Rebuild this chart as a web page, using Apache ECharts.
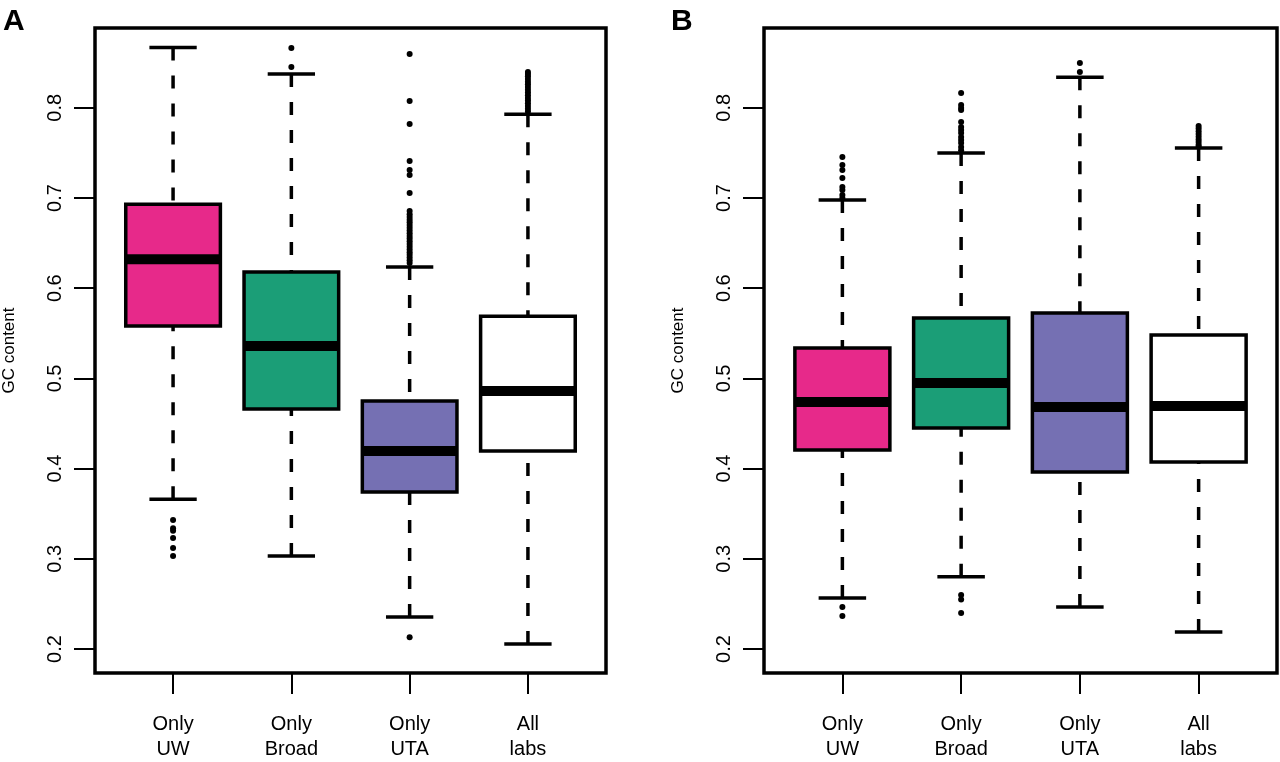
<!DOCTYPE html>
<html>
<head>
<meta charset="utf-8">
<script src="https://cdn.jsdelivr.net/npm/echarts@6/dist/echarts.min.js"></script>
<style>
html,body{margin:0;padding:0;background:#fff;}
#chart{width:1280px;height:762px;}
</style>
</head>
<body>
<div id="chart"></div>
<script>
// ---------- data ----------
const categories = ['Only\nUW', 'Only\nBroad', 'Only\nUTA', 'All\nlabs'];
const yTicks = [0.2, 0.3, 0.4, 0.5, 0.6, 0.7, 0.8];
const boxColors = ['#E7298A', '#1B9E77', '#7570B3', '#FFFFFF'];

// Panel A: [lower whisker, Q1, median, Q3, upper whisker]
const statsA_UW    = [0.366, 0.558, 0.632, 0.693, 0.867];
const statsA_Broad = [0.303, 0.466, 0.536, 0.618, 0.8375];
const statsA_UTA   = [0.2355, 0.374, 0.4195, 0.475, 0.6235];
const statsA_All   = [0.2055, 0.4195, 0.486, 0.569, 0.793];

// Panel B
const statsB_UW    = [0.2565, 0.4206, 0.4738, 0.5337, 0.6978];
const statsB_Broad = [0.280, 0.445, 0.495, 0.567, 0.7499];
const statsB_UTA   = [0.2466, 0.3962, 0.4683, 0.5725, 0.834];
const statsB_All   = [0.2188, 0.4073, 0.4694, 0.5481, 0.7554];

// Outliers
const outA_UW    = [0.343, 0.334, 0.331, 0.323, 0.312, 0.303];
const outA_Broad = [0.8663, 0.8452];
const outA_UTA   = [0.213, 0.8597, 0.8075, 0.782, 0.741, 0.731, 0.7255, 0.7055,
                    0.6856, 0.682, 0.679, 0.676, 0.673, 0.670, 0.667, 0.664, 0.661,
                    0.658, 0.655, 0.652, 0.649, 0.646, 0.643, 0.640, 0.637, 0.634,
                    0.631, 0.628];
const outA_All   = [0.8397, 0.8375, 0.835, 0.832, 0.829, 0.826, 0.823, 0.820, 0.817,
                    0.814, 0.811, 0.808, 0.805, 0.802, 0.799, 0.796];

const outB_UW    = [0.2466, 0.2366, 0.7455, 0.7366, 0.731, 0.7222, 0.7122, 0.7089, 0.7033, 0.700];
const outB_Broad = [0.260, 0.255, 0.240, 0.8164, 0.803, 0.7997, 0.7976, 0.7843, 0.7787,
                    0.7754, 0.772, 0.7676, 0.7643, 0.761, 0.7565, 0.753];
const outB_UTA   = [0.8497, 0.8397];
const outB_All   = [0.7798, 0.777, 0.774, 0.771, 0.768, 0.765, 0.762, 0.759, 0.757];

// ---------- build ----------
const statsA = [statsA_UW, statsA_Broad, statsA_UTA, statsA_All];
const statsB = [statsB_UW, statsB_Broad, statsB_UTA, statsB_All];
const outA = [outA_UW, outA_Broad, outA_UTA, outA_All];
const outB = [outB_UW, outB_Broad, outB_UTA, outB_All];

function boxData(stats) {
  return stats.map((s, i) => [i + 1].concat(s).concat([i]));
}
function outData(outs) {
  const res = [];
  outs.forEach((arr, i) => arr.forEach(v => res.push([i + 1, v])));
  return res;
}

const FONT = 'Liberation Sans, Arial, Helvetica, sans-serif';
const LW = 3.5;

function renderBox(params, api) {
  const x = api.value(0);
  const lo = api.value(1), q1 = api.value(2), med = api.value(3), q3 = api.value(4), hi = api.value(5);
  const ci = api.value(6);
  const bw = 0.4, sw = 0.2;
  const pHi = api.coord([x, hi]), pQ3 = api.coord([x, q3]);
  const pQ1 = api.coord([x, q1]), pLo = api.coord([x, lo]);
  const bl = api.coord([x - bw, q3]), br = api.coord([x + bw, q1]);
  const sl = api.coord([x - sw, hi]), sr = api.coord([x + sw, hi]);
  const sl2 = api.coord([x - sw, lo]), sr2 = api.coord([x + sw, lo]);
  const ml = api.coord([x - bw, med]), mr = api.coord([x + bw, med]);
  const dash = { stroke: '#000', lineWidth: LW, lineDash: [13, 15] };
  const solid = { stroke: '#000', lineWidth: LW };
  return {
    type: 'group',
    children: [
      { type: 'line', shape: { x1: pHi[0], y1: pHi[1], x2: pQ3[0], y2: pQ3[1] }, style: dash },
      { type: 'line', shape: { x1: pLo[0], y1: pLo[1], x2: pQ1[0], y2: pQ1[1] }, style: dash },
      { type: 'line', shape: { x1: sl[0], y1: sl[1], x2: sr[0], y2: sr[1] }, style: solid },
      { type: 'line', shape: { x1: sl2[0], y1: sl2[1], x2: sr2[0], y2: sr2[1] }, style: solid },
      { type: 'rect', shape: { x: bl[0], y: bl[1], width: br[0] - bl[0], height: br[1] - bl[1] },
        style: { fill: boxColors[ci], stroke: '#000', lineWidth: LW } },
      { type: 'line', shape: { x1: ml[0], y1: ml[1], x2: mr[0], y2: mr[1] },
        style: { stroke: '#000', lineWidth: 10 } }
    ]
  };
}

function xAxisCfg(gi) {
  return {
    type: 'value', gridIndex: gi, min: 0.34, max: 4.66,
    axisLine: { show: false },
    splitLine: { show: false },
    axisTick: { show: true, length: 21, customValues: [1, 2, 3, 4], lineStyle: { color: '#000', width: 2 } },
    axisLabel: {
      customValues: [1, 2, 3, 4],
      formatter: v => categories[Math.round(v) - 1] || '',
      color: '#000', fontSize: 20, fontFamily: FONT, lineHeight: 25, margin: 39
    }
  };
}
function yAxisCfg(gi) {
  return {
    type: 'value', gridIndex: gi, min: 0.1734, max: 0.8885,
    name: 'GC content', nameLocation: 'middle', nameGap: 77, nameRotate: 90,
    nameTextStyle: { color: '#000', fontSize: 17, fontFamily: FONT },
    axisLine: { show: false },
    splitLine: { show: false },
    axisTick: { show: true, length: 21, customValues: yTicks, lineStyle: { color: '#000', width: 2 } },
    axisLabel: {
      customValues: yTicks, rotate: 90,
      formatter: v => v.toFixed(1),
      color: '#000', fontSize: 20, fontFamily: FONT, margin: 30
    }
  };
}

const chart = echarts.init(document.getElementById('chart'), null, { renderer: 'canvas' });
chart.setOption({
  animation: false,
  backgroundColor: '#fff',
  grid: [
    { left: 95, top: 28, width: 511, height: 645, show: true, borderColor: '#000', borderWidth: LW, backgroundColor: 'transparent' },
    { left: 764, top: 28, width: 513, height: 645, show: true, borderColor: '#000', borderWidth: LW, backgroundColor: 'transparent' }
  ],
  xAxis: [xAxisCfg(0), xAxisCfg(1)],
  yAxis: [yAxisCfg(0), yAxisCfg(1)],
  graphic: [
    { type: 'text', left: 3, top: 7, style: { text: 'A', fontSize: 30, fontWeight: 'bold', fontFamily: FONT, fill: '#000' } },
    { type: 'text', left: 671, top: 7, style: { text: 'B', fontSize: 30, fontWeight: 'bold', fontFamily: FONT, fill: '#000' } }
  ],
  series: [
    { type: 'custom', xAxisIndex: 0, yAxisIndex: 0, renderItem: renderBox, data: boxData(statsA), z: 2 },
    { type: 'custom', xAxisIndex: 1, yAxisIndex: 1, renderItem: renderBox, data: boxData(statsB), z: 2 },
    { type: 'scatter', xAxisIndex: 0, yAxisIndex: 0, data: outData(outA), symbolSize: 6,
      itemStyle: { color: '#000', opacity: 1 }, z: 3 },
    { type: 'scatter', xAxisIndex: 1, yAxisIndex: 1, data: outData(outB), symbolSize: 6,
      itemStyle: { color: '#000', opacity: 1 }, z: 3 }
  ]
});
</script>
</body>
</html>
